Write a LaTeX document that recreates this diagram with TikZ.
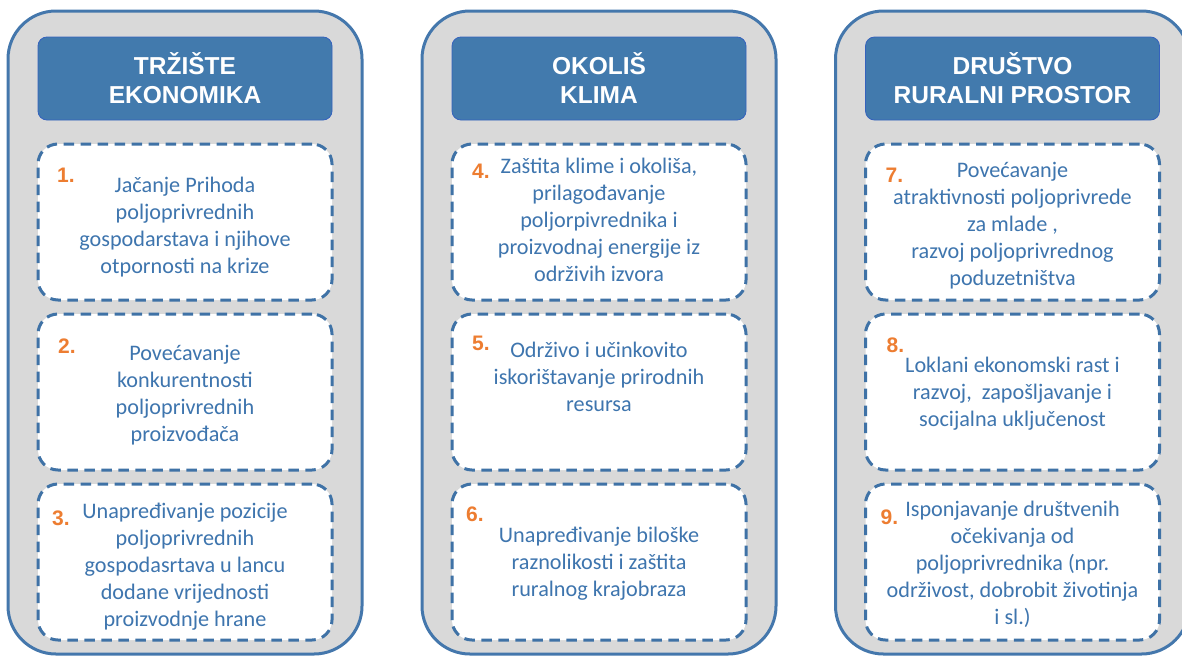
\documentclass[tikz,border=0pt]{standalone}
\usepackage{fontspec}
\usetikzlibrary{positioning}
\newfontfamily\bodyfont{Carlito}
\newfontfamily\headfont{Liberation Sans}
\definecolor{greyfill}{HTML}{D9D9D9}
\definecolor{colblue}{HTML}{4477AC}
\definecolor{headblue}{HTML}{427AAD}
\definecolor{dashblue}{HTML}{3F72A6}
\definecolor{txtblue}{HTML}{3E75AE}
\definecolor{numorange}{HTML}{ED7D31}
\tikzset{
    %Define style for the grey columns
    column/.style={
      rectangle,
      rounded corners=48pt,
      draw=colblue, line width=3pt,
      fill=greyfill,
      minimum width=354pt,
      minimum height=643pt,
      outer sep=0pt},
    %Define style for the column headers
    head/.style={
      rectangle,
      rounded corners=9pt,
      draw=headblue!80!blue, line width=0.8pt,
      fill=headblue,
      text=white,
      font=\headfont\bfseries\fontsize{24.5}{29}\selectfont,
      align=center,
      minimum width=294pt,
      minimum height=83pt,
      outer sep=0pt},
    %Define style for the dashed goal boxes
    goal/.style={
      rectangle,
      rounded corners=20pt,
      draw=dashblue, line width=3pt,
      dash pattern=on 10.5pt off 6.5pt,
      fill=white,
      minimum width=294pt,
      minimum height=156pt,
      outer sep=0pt},
    % Define style for the goal texts
    goaltext/.style={
      inner sep=0pt,
      text=txtblue,
      font=\bodyfont\fontsize{22.2}{27}\selectfont,
      align=center},
    % Define style for the numbers
    num/.style={
      inner sep=0pt,
      anchor=base west,
      text=numorange,
      font=\headfont\bfseries\fontsize{21}{24}\selectfont}
}

\begin{document}
\begin{tikzpicture}[x=1pt, y=-1pt, node distance=14pt]
    \clip (0,0) rectangle (1182,656);
    % columns
    \node[column] (colA) at (185,332.5) {};
    \node[column] (colB) at (599,332.5) {};
    \node[column] (colC) at (1012.5,332.5) {};
    % headers
    \node[head, below=26pt of colA.north] (headA) {TRŽIŠTE\\EKONOMIKA};
    \node[head, below=26pt of colB.north] (headB) {OKOLIŠ\\KLIMA};
    \node[head, below=26pt of colC.north] (headC) {DRUŠTVO\\RURALNI PROSTOR};
    % goal boxes
    \node[goal, below=24pt of headA] (goalA) {};
    \node[goal, below=of goalA] (goalB) {};
    \node[goal, below=of goalB] (goalC) {};
    \node[goal, below=24pt of headB] (goalD) {};
    \node[goal, below=of goalD] (goalE) {};
    \node[goal, below=of goalE] (goalF) {};
    \node[goal, below=24pt of headC] (goalG) {};
    \node[goal, below=of goalG] (goalH) {};
    \node[goal, below=of goalH] (goalI) {};
    % goal texts
    \node[goaltext, below=29pt of goalA.north] (txtA)
      {\strut Jačanje Prihoda\\poljoprivrednih\\gospodarstava i njihove\\otpornosti na krize};
    \node[goaltext, below=27pt of goalB.north] (txtB)
      {\strut Povećavanje\\konkurentnosti\\poljoprivrednih\\proizvođača};
    \node[goaltext, below=15pt of goalC.north] (txtC)
      {\strut Unapređivanje pozicije\\poljoprivrednih\\gospodasrtava u lancu\\dodane vrijednosti\\proizvodnje hrane};
    \node[goaltext, below=10pt of goalD.north] (txtD)
      {\strut Zaštita klime i okoliša,\\prilagođavanje\\poljorpivrednika i\\proizvodnaj energije iz\\održivih izvora};
    \node[goaltext, below=24pt of goalE.north] (txtE)
      {\strut Održivo i učinkovito\\iskorištavanje prirodnih\\resursa};
    \node[goaltext, below=39pt of goalF.north] (txtF)
      {\strut Unapređivanje biloške\\raznolikosti i zaštita\\ruralnog krajobraza};
    \node[goaltext, below=14pt of goalG.north] (txtG)
      {\strut Povećavanje\\atraktivnosti poljoprivrede\\za mlade ,\\razvoj poljoprivrednog\\poduzetništva};
    \node[goaltext, below=39pt of goalH.north] (txtH)
      {\strut Loklani ekonomski rast i\\razvoj,\ \ zapošljavanje i\\socijalna uključenost};
    \node[goaltext, below=13pt of goalI.north] (txtI)
      {\strut Isponjavanje društvenih\\očekivanja od\\poljoprivrednika (npr.\\održivost, dobrobit životinja\\i sl.)};
    % numbers
    \node[num] (numA) at ([shift={(19,38)}]goalA.north west) {1.};
    \node[num] (numB) at ([shift={(20,39)}]goalB.north west) {2.};
    \node[num] (numC) at ([shift={(14,41)}]goalC.north west) {3.};
    \node[num] (numD) at ([shift={(20,34)}]goalD.north west) {4.};
    \node[num] (numE) at ([shift={(20,36)}]goalE.north west) {5.};
    \node[num] (numF) at ([shift={(14,37)}]goalF.north west) {6.};
    \node[num] (numG) at ([shift={(20,38)}]goalG.north west) {7.};
    \node[num] (numH) at ([shift={(21,38)}]goalH.north west) {8.};
    \node[num] (numI) at ([shift={(15,40)}]goalI.north west) {9.};
\end{tikzpicture}
\end{document}
